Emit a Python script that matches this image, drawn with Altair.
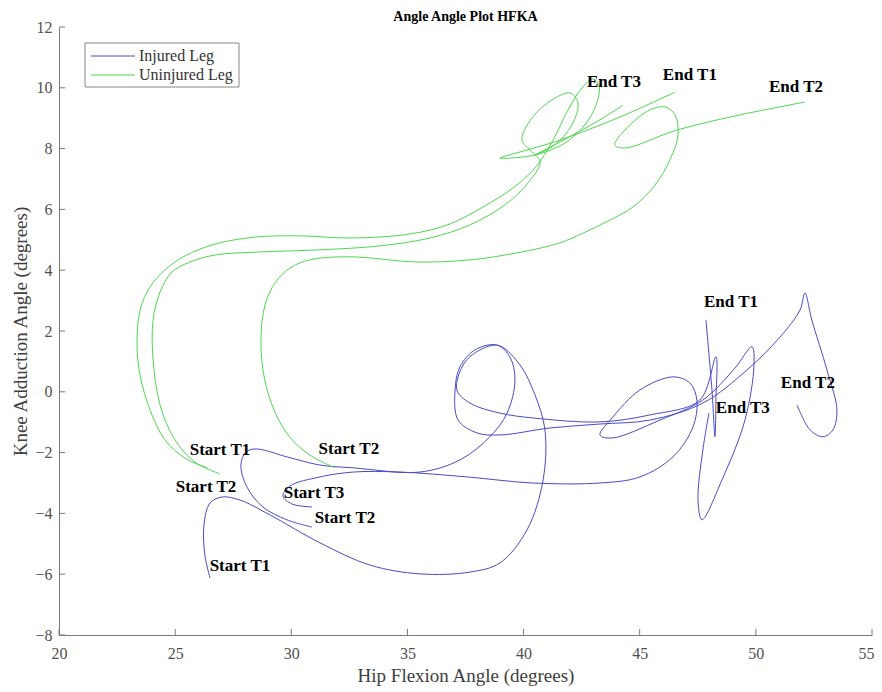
import altair as alt
import pandas as pd

# ---------------- data ----------------
# Injured leg (blue)
inj_t1_x = [26.50, 26.28, 26.24, 26.50, 27.02, 27.79, 29.08, 31.24, 33.39, 35.54, 37.69, 38.98, 40.15, 40.84,
            40.92, 40.49, 39.85, 38.98, 38.42, 37.48, 37.13, 37.69, 38.98, 40.40, 43.29, 45.44, 47.59, 48.28,
            48.28, 48.24, 48.11, 47.85]
inj_t1_y = [-6.12, -5.37, -4.38, -3.66, -3.46, -3.56, -4.05, -4.97, -5.70, -5.99, -5.93, -5.63, -4.54, -2.90,
            -1.25, -0.10, 0.88, 1.51, 1.48, 0.98, 0.06, -0.37, -0.70, -0.86, -0.99, -0.76, -0.27, 1.15,
            -0.27, -1.48, 0.06, 2.36]

inj_t2_x = [30.89, 29.81, 28.78, 28.09, 27.83, 28.05, 28.48, 29.81, 31.24, 32.66, 35.54, 37.26, 38.55, 39.29,
            39.63, 39.41, 38.85, 37.91, 37.26, 37.05, 37.18, 37.99, 38.98, 41.14, 43.29, 45.44, 47.72, 49.62,
            51.04, 51.90, 52.11, 52.41, 53.06, 53.49, 53.32, 52.89, 52.33, 51.77]
inj_t2_y = [-4.45, -4.21, -3.79, -3.13, -2.41, -1.98, -1.88, -2.14, -2.41, -2.50, -2.64, -2.24, -1.48, -0.70,
            0.39, 1.15, 1.54, 1.38, 0.82, 0.06, -0.93, -1.35, -1.42, -1.19, -1.06, -0.93, -0.37, 0.72,
            1.80, 2.69, 3.25, 2.36, 0.72, -0.60, -1.25, -1.48, -1.25, -0.43]

inj_t3_x = [30.89, 30.03, 29.64, 29.94, 31.24, 32.66, 34.68, 37.56, 40.40, 43.29, 45.01, 46.43, 47.29, 47.46,
            47.16, 46.43, 45.01, 43.81, 43.29, 43.81, 45.87, 47.72, 49.10, 49.83, 49.92, 49.53, 48.54, 47.68,
            47.51, 47.72, 47.98]
inj_t3_y = [-3.79, -3.69, -3.43, -3.10, -2.80, -2.64, -2.64, -2.80, -3.00, -3.00, -2.80, -2.14, -1.16, -0.27,
            0.29, 0.49, 0.06, -0.86, -1.42, -1.52, -0.93, -0.27, 0.78, 1.48, 0.88, -0.93, -2.90, -4.21,
            -3.56, -1.91, -0.70]

# Uninjured leg (green)
uni_t1_x = [26.37, 25.42, 24.56, 23.92, 23.49, 23.36, 23.49, 23.92, 24.56, 25.42, 26.72, 28.44, 30.37, 32.53,
            35.11, 36.83, 38.25, 39.54, 40.49, 41.27, 41.91, 42.51, 42.99, 43.25, 43.12, 42.64, 41.78, 40.49,
            38.98, 39.85, 41.57, 44.15, 46.52]
uni_t1_y = [-2.50, -2.18, -1.58, -0.60, 0.55, 1.54, 2.69, 3.45, 4.01, 4.47, 4.86, 5.09, 5.13, 5.06,
            5.19, 5.52, 6.08, 6.70, 7.36, 8.28, 9.27, 9.99, 10.29, 10.06, 9.43, 8.78, 8.18, 7.79,
            7.69, 7.89, 8.28, 9.04, 9.86]

uni_t3_x = [26.93, 25.85, 24.99, 24.35, 24.05, 24.05, 24.35, 24.86, 25.64, 26.72, 28.65, 31.24, 33.82, 35.97,
            37.69, 39.20, 40.19, 40.71, 40.28, 39.93, 40.36, 41.22, 42.00, 42.34, 42.08, 41.35, 40.49, 41.57,
            43.29, 44.28]
uni_t3_y = [-2.70, -2.31, -1.58, -0.43, 1.05, 2.36, 3.28, 3.94, 4.27, 4.50, 4.60, 4.67, 4.80, 5.06,
            5.49, 6.15, 6.87, 7.56, 7.95, 8.28, 9.01, 9.60, 9.83, 9.50, 8.78, 8.12, 7.79, 8.22,
            8.95, 9.43]

uni_t2_x = [31.88, 30.80, 29.86, 29.17, 28.78, 28.70, 28.87, 29.30, 29.94, 30.80, 32.53, 35.41, 37.69, 39.72,
            41.57, 42.56, 43.72, 44.71, 45.66, 46.30, 46.65, 46.52, 46.09, 45.44, 44.58, 43.93, 44.36, 46.60,
            49.32, 52.11]
uni_t2_y = [-2.50, -2.08, -1.42, -0.43, 0.72, 1.87, 2.86, 3.58, 4.07, 4.34, 4.44, 4.27, 4.34, 4.57,
            4.90, 5.22, 5.65, 6.08, 6.80, 7.63, 8.45, 9.11, 9.37, 9.27, 8.78, 8.12, 8.02, 8.61,
            9.11, 9.53]

# annotations
label_text = ["Start T1", "Start T2", "Start T2", "Start T3", "Start T2", "Start T1",
              "End T3", "End T1", "End T2", "End T1", "End T2", "End T3"]
label_x = [26.93, 26.33, 32.48, 30.98, 32.31, 27.79, 43.89, 47.16, 51.73, 48.93, 52.24, 49.44]
label_y = [-1.91, -3.13, -1.88, -3.33, -4.15, -5.73, 10.19, 10.42, 10.03, 2.96, 0.29, -0.53]

x_ticks = [20, 25, 30, 35, 40, 45, 50, 55]
y_ticks = [-8, -6, -4, -2, 0, 2, 4, 6, 8, 10, 12]

title_text = "Angle Angle Plot HFKA"
legs = ["Injured Leg", "Uninjured Leg"]
colors = ["#4a4ac4", "#4fd64f"]

# ---------------- build tables ----------------
rows = []
series = [
    ("Injured Leg", "inj1", inj_t1_x, inj_t1_y),
    ("Injured Leg", "inj2", inj_t2_x, inj_t2_y),
    ("Injured Leg", "inj3", inj_t3_x, inj_t3_y),
    ("Uninjured Leg", "uni1", uni_t1_x, uni_t1_y),
    ("Uninjured Leg", "uni2", uni_t2_x, uni_t2_y),
    ("Uninjured Leg", "uni3", uni_t3_x, uni_t3_y),
]
for leg, sid, xs, ys in series:
    for i, (xv, yv) in enumerate(zip(xs, ys)):
        rows.append({"leg": leg, "sid": sid, "i": i, "x": xv, "y": yv})
df = pd.DataFrame(rows)
labels = pd.DataFrame({"t": label_text, "x": label_x, "y": label_y})
xt = pd.DataFrame({"v": x_ticks})
yt = pd.DataFrame({"v": y_ticks})
one = pd.DataFrame({"t": [title_text]})

W, H = 813, 608
FONT = "Liberation Serif"
GRAY = "#7a7a7a"

xscale = alt.Scale(domain=[20, 55], nice=False, zero=False)
yscale = alt.Scale(domain=[-8, 12], nice=False, zero=False)

xaxis = alt.Axis(values=x_ticks, title="Hip Flexion Angle (degrees)", grid=False, tickSize=0,
                 labelPadding=10, labelFontSize=16, labelFont=FONT, labelColor="#505050",
                 labelOffset={"condition": {"test": "datum.value == 55", "value": -6}, "value": 0},
                 titleFont=FONT, titleFontSize=19, titleFontWeight="normal", titleColor="#404040",
                 titlePadding=5, domainColor=GRAY, labelFlush=False)
yaxis = alt.Axis(values=y_ticks, title="Knee Adduction Angle (degrees)", grid=False, tickSize=0,
                 labelPadding=7, labelFontSize=16, labelFont=FONT, labelColor="#505050",
                 titleFont=FONT, titleFontSize=19, titleFontWeight="normal", titleColor="#404040",
                 titlePadding=4, domainColor=GRAY, labelFlush=False)

lines = alt.Chart(df).mark_line(interpolate="catmull-rom", strokeWidth=1).encode(
    x=alt.X("x:Q", scale=xscale, axis=xaxis),
    y=alt.Y("y:Q", scale=yscale, axis=yaxis),
    color=alt.Color("leg:N", scale=alt.Scale(domain=legs, range=colors), legend=None),
    detail="sid:N",
    order="i:Q",
)

text = alt.Chart(labels).mark_text(font=FONT, fontWeight="bold", fontSize=17, color="black").encode(
    x=alt.X("x:Q", scale=xscale), y=alt.Y("y:Q", scale=yscale), text="t:N"
)

xticks = alt.Chart(xt).mark_rule(color=GRAY, strokeWidth=1).encode(
    x=alt.X("v:Q", scale=xscale), y=alt.value(H), y2=alt.value(H - 6)
)
yticks = alt.Chart(yt).mark_rule(color=GRAY, strokeWidth=1).encode(
    y=alt.Y("v:Q", scale=yscale), x=alt.value(0), x2=alt.value(6)
)

title = alt.Chart(one).mark_text(font=FONT, fontWeight="bold", fontSize=14, color="black",
                                 baseline="middle", align="center").encode(
    x=alt.value(W / 2), y=alt.value(-10), text="t:N"
)

# manual legend (box, line samples, labels)
legend_box = alt.Chart(one).mark_rect(fill="white", stroke="#888888", strokeWidth=1).encode(
    x=alt.value(26), x2=alt.value(180), y=alt.value(16), y2=alt.value(60)
)
legend_layers = [legend_box]
for k, (lg, col) in enumerate(zip(legs, colors)):
    ldf = pd.DataFrame({"t": [lg]})
    legend_layers.append(
        alt.Chart(ldf).mark_rule(color=col, strokeWidth=1.2).encode(
            x=alt.value(32), x2=alt.value(76), y=alt.value(29 + 19 * k)
        )
    )
    legend_layers.append(
        alt.Chart(ldf).mark_text(font=FONT, fontSize=16, color="#333333", align="left",
                                 baseline="middle").encode(
            x=alt.value(80), y=alt.value(29 + 19 * k), text="t:N"
        )
    )

chart = alt.layer(lines, xticks, yticks, text, title, *legend_layers).properties(
    width=W, height=H,
    autosize=alt.AutoSizeParams(type="none"),
    padding={"left": 51, "top": 19, "right": 2, "bottom": 56},
).configure(background="white").configure_view(stroke=None, strokeWidth=0)

chart.save("out.html", embed_options={"renderer": "svg", "actions": False})
